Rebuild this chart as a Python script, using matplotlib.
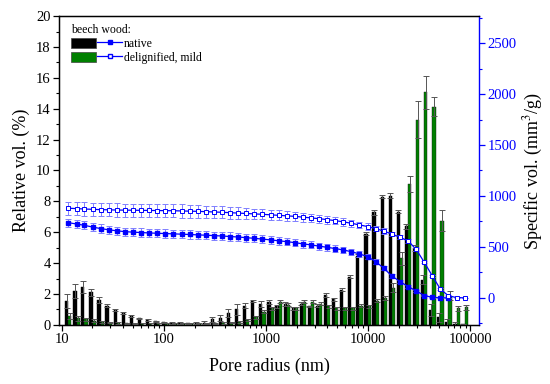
import matplotlib
matplotlib.use("Agg")
import matplotlib.pyplot as plt
from matplotlib.patches import Patch
from matplotlib.lines import Line2D
from matplotlib.legend_handler import HandlerTuple
from matplotlib.ticker import LogLocator, FixedLocator, MultipleLocator, FuncFormatter

plt.rcParams['font.family'] = ['Liberation Serif', 'DejaVu Serif']
plt.rcParams['mathtext.fontset'] = 'stix'

# pore radius bins (nm)
radius = [11.6, 14.0, 16.7, 20.1, 24.1, 28.9, 34.7, 41.7, 50.0, 60.0,
          72.0, 86.4, 103.7, 124.4, 149.3, 179.2, 215.0, 258.0, 309.6, 371.6,
          445.9, 535.0, 642.0, 770.5, 924.6, 1109, 1331, 1598, 1917, 2301,
          2761, 3313, 3975, 4770, 5725, 6869, 8243, 9892, 11870, 14245,
          17093, 20512, 24614, 29538, 35445, 42534, 51041, 61249, 73499, 88199]

# relative volume (%) - bars
native_rel = [1.55, 2.2, 2.45, 2.1, 1.6, 1.25, 0.97, 0.76, 0.58, 0.42,
              0.3, 0.22, 0.16, 0.13, 0.12, 0.1, 0.12, 0.15, 0.35, 0.45,
              0.76, 1.0, 1.25, 1.55, 1.37, 1.47, 1.19, 1.34, 1.08, 1.36,
              1.19, 1.23, 1.94, 1.66, 2.27, 3.13, 4.47, 5.89, 7.29, 8.3,
              8.38, 7.34, 6.38, 5.0, 2.93, 0.97, 0.5, 0.2, 0.08, 0.03]
native_rel_err = [0.45, 0.45, 0.4, 0.25, 0.2, 0.08, 0.06, 0.05, 0.05, 0.05,
                  0.05, 0.05, 0.05, 0.05, 0.05, 0.05, 0.08, 0.1, 0.15, 0.2,
                  0.28, 0.35, 0.15, 0.05, 0.2, 0.15, 0.1, 0.15, 0.1, 0.1,
                  0.05, 0.1, 0.15, 0.1, 0.1, 0.1, 0.1, 0.1, 0.15, 0.1,
                  0.15, 0.1, 0.15, 0.2, 0.3, 0.4, 0.3, 0.2, 0.1, 0.05]
mild_rel = [0.55, 0.42, 0.35, 0.28, 0.2, 0.15, 0.12, 0.1, 0.08, 0.07,
            0.06, 0.06, 0.05, 0.05, 0.05, 0.05, 0.06, 0.08, 0.1, 0.12,
            0.15, 0.2, 0.3, 0.5, 0.86, 1.08, 1.51, 1.3, 1.08, 1.51,
            1.51, 1.36, 1.19, 1.08, 1.08, 1.08, 1.25, 1.2, 1.57, 1.75,
            2.4, 4.31, 9.13, 13.3, 15.06, 14.13, 6.75, 1.9, 1.08, 1.14]
mild_rel_err = [0.2, 0.15, 0.12, 0.1, 0.08, 0.05, 0.05, 0.05, 0.05, 0.05,
                0.05, 0.05, 0.05, 0.05, 0.05, 0.05, 0.05, 0.05, 0.05, 0.05,
                0.05, 0.05, 0.08, 0.1, 0.1, 0.1, 0.1, 0.1, 0.1, 0.1,
                0.1, 0.1, 0.1, 0.1, 0.1, 0.1, 0.1, 0.1, 0.1, 0.15,
                0.3, 0.4, 0.5, 1.2, 1.05, 0.6, 0.7, 0.3, 0.15, 0.15]

# specific (cumulative) volume (mm3/g) - lines
native_spec = [738, 725, 712, 695, 680, 668, 658, 650, 645, 641,
               637, 634, 631, 628, 625, 622, 618, 615, 611, 607,
               602, 597, 591, 584, 577, 569, 560, 552, 542, 530,
               520, 508, 496, 484, 470, 453, 431, 405, 356, 291,
               215, 160, 111, 69, 23, 5, 1, 0]
native_spec_err = [40, 40, 40, 40, 40, 40, 40, 40, 40, 40,
                   40, 40, 40, 40, 40, 40, 40, 40, 40, 40,
                   40, 40, 40, 40, 38, 38, 38, 36, 36, 36,
                   35, 35, 34, 33, 32, 30, 28, 26, 24, 20,
                   18, 15, 12, 10, 8, 5, 4, 3]
mild_spec = [880, 876, 872, 869, 866, 864, 862, 861, 860, 859,
             858, 857, 856, 855, 853, 851, 849, 846, 843, 840,
             836, 832, 828, 824, 820, 815, 810, 805, 800, 792,
             785, 777, 768, 758, 746, 732, 716, 700, 680, 655,
             627, 595, 559, 477, 350, 216, 85, 20, 3, 0]
mild_spec_err = [65, 65, 65, 65, 65, 65, 65, 65, 65, 65,
                 65, 65, 65, 65, 65, 65, 62, 60, 60, 60,
                 58, 56, 55, 52, 50, 50, 48, 46, 45, 44,
                 42, 40, 40, 38, 36, 35, 33, 30, 28, 26,
                 24, 20, 16, 14, 12, 10, 8, 5, 4, 3]

blue = '#0000ff'
green = '#008000'

fig = plt.figure(figsize=(5.5, 3.84), dpi=100)
ax = fig.add_axes([0.107, 0.154, 0.764, 0.804])
ax2 = ax.twinx()

# bar geometry on log axis: black left of bin centre, green right
step = 10 ** (3.2 / 102)
half = 10 ** (1.6 / 102)
left_black = [r / step for r in radius]
w_black = [r - lb for r, lb in zip(radius, left_black)]
w_green = [r * step - r for r in radius]
ax.bar(left_black, native_rel, width=w_black, align='edge', color='black',
       edgecolor='black', linewidth=0.3, zorder=2)
ax.bar(radius, mild_rel, width=w_green, align='edge', color=green,
       edgecolor='#1a1a1a', linewidth=0.3, zorder=2)
ax.errorbar([r / half for r in radius], native_rel, yerr=native_rel_err,
            fmt='none', ecolor='#555555', elinewidth=0.7, capsize=2.2,
            capthick=0.7, zorder=3)
ax.errorbar([r * half for r in radius], mild_rel, yerr=mild_rel_err,
            fmt='none', ecolor='#555555', elinewidth=0.7, capsize=2.2,
            capthick=0.7, zorder=3)

# cumulative curves
ax2.errorbar(radius[:len(native_spec)], native_spec, yerr=native_spec_err,
             color=blue, ecolor='#7f7fff', elinewidth=0.7, capsize=2.5,
             capthick=0.7, lw=0.9, marker='s', ms=3.2, mfc=blue, mec=blue)
ax2.errorbar(radius, mild_spec, yerr=mild_spec_err,
             color=blue, ecolor='#7f7fff', elinewidth=0.7, capsize=2.5,
             capthick=0.7, lw=0.9, marker='s', ms=3.3, mfc='white', mec=blue,
             mew=0.7)

ax.set_xscale('log')
ax.set_xlim(9.4, 122000)
ax.set_ylim(0, 20)
ax2.set_ylim(-265, 2765)

ax.xaxis.set_major_locator(FixedLocator([10, 100, 1000, 10000, 100000]))
ax.xaxis.set_major_formatter(FuncFormatter(lambda v, p: '%d' % v))
ax.xaxis.set_minor_locator(LogLocator(base=10, subs=range(2, 10)))
ax.xaxis.set_minor_formatter(FuncFormatter(lambda v, p: ''))
ax.yaxis.set_major_locator(MultipleLocator(2))
ax.yaxis.set_minor_locator(MultipleLocator(1))
ax2.yaxis.set_major_locator(FixedLocator([0, 500, 1000, 1500, 2000, 2500]))
ax2.yaxis.set_minor_locator(FixedLocator([-250, 250, 750, 1250, 1750, 2250, 2750]))

ax.tick_params(axis='both', which='major', direction='out', length=4,
               width=0.9, labelsize=10.5, pad=2)
ax.tick_params(axis='both', which='minor', direction='out', length=2.2,
               width=0.8)
ax2.tick_params(axis='y', which='major', direction='out', length=4,
                width=0.9, labelsize=10.5, colors=blue, pad=2)
ax2.tick_params(axis='y', which='minor', direction='out', length=2.2,
                width=0.8, colors=blue)
for sp in ['left', 'bottom', 'top']:
    ax.spines[sp].set_linewidth(1.0)
ax2.spines['right'].set_color(blue)
ax2.spines['right'].set_linewidth(1.0)
ax.spines['right'].set_visible(False)

ax.set_xlabel('Pore radius (nm)', fontsize=13, labelpad=8)
ax.set_ylabel('Relative vol. (%)', fontsize=13, labelpad=4)
ax2.set_ylabel('Specific vol. (mm$^3$/g)', fontsize=13, labelpad=4)

h_native = (Patch(facecolor='black', edgecolor='#444444', linewidth=0.5),
            Line2D([], [], color=blue, lw=0.9, marker='s', ms=3, mfc=blue, mec=blue))
h_mild = (Patch(facecolor=green, edgecolor='#444444', linewidth=0.5),
          Line2D([], [], color=blue, lw=0.9, marker='s', ms=3.3, mfc='white', mec=blue))
leg = ax2.legend([h_native, h_mild], ['native', 'delignified, mild'],
                 handler_map={tuple: HandlerTuple(ndivide=None, pad=0.05)},
                 title='beech wood:', loc='upper left',
                 bbox_to_anchor=(0.01, 1.0), frameon=False, fontsize=8.5,
                 title_fontsize=8.5, handlelength=4.3, handleheight=1.0,
                 handletextpad=0.15, labelspacing=0.12, borderaxespad=0.3,
                 alignment='left')

fig.savefig('out.png', dpi=100)
